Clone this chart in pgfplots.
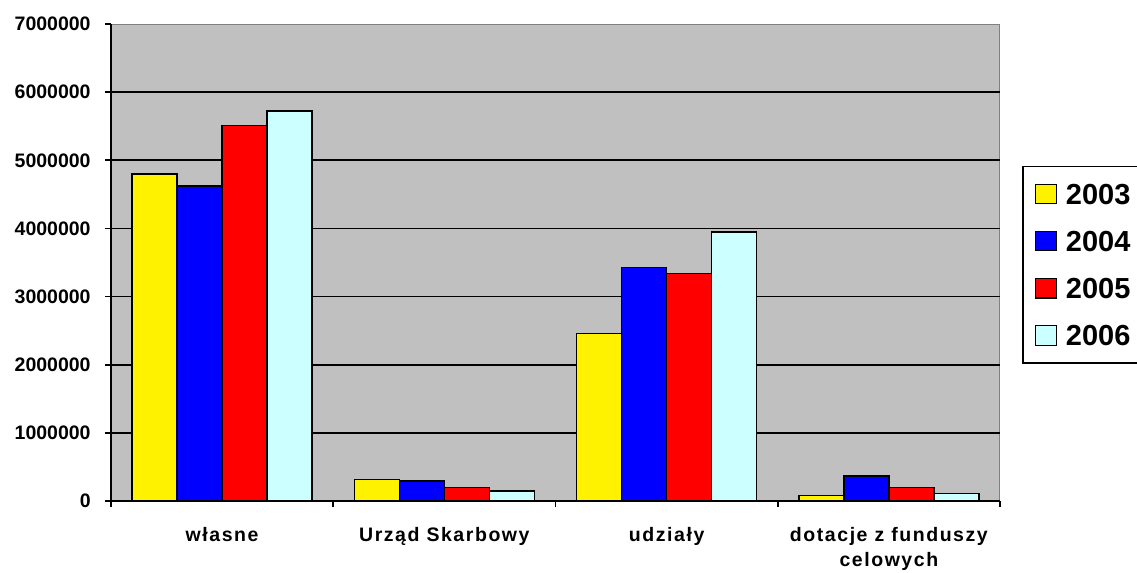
\documentclass[border=0pt]{standalone}
\usepackage{pgfplots}
\pgfplotsset{compat=1.18}
\usepackage{fontspec}
\setmainfont{Liberation Sans}
\newfontfamily\xlabfont[LetterSpace=8]{Liberation Sans}
\definecolor{plotgray}{RGB}{192,192,192}
\definecolor{bordergray}{RGB}{128,128,128}
\definecolor{cyanbar}{RGB}{204,255,255}
\begin{document}
\begin{tikzpicture}
\path[use as bounding box] (-55.5bp,-36bp) rectangle (513bp,250.5bp);
\begin{axis}[
  at={(0,0)}, anchor=south west,
  width=444.5bp, height=238.5bp, scale only axis,
  xmin=-0.5, xmax=3.5, ymin=0, ymax=7000000,
  axis x line*=bottom, axis y line*=left,
  axis line style={black, line width=0.9bp},
  axis background/.style={fill=plotgray, draw=bordergray, line width=0.5bp},
  ybar=0pt, bar width=22.5bp,
  xtick={0,1,2,3},
  xticklabels={w{ł}asne, Urząd Skarbowy, udziały, {dotacje z funduszy\\celowych}},
  minor xtick={-0.5,0.5,1.5,2.5,3.5},
  major x tick style={draw=none},
  minor x tick style={black, line width=0.9bp},
  minor tick length=3bp,
  tick align=outside,
  ytick={0,1000000,2000000,3000000,4000000,5000000,6000000},
  yticklabels={0,1000000,2000000,3000000,4000000,5000000,6000000},
  extra y ticks={7000000},
  extra y tick labels={7000000},
  extra y tick style={ymajorgrids=false},
  scaled y ticks=false,
  major y tick style={black, line width=0.9bp},
  major tick length=3bp,
  ymajorgrids,
  major grid style={black, line width=0.8bp},
  yticklabel style={font=\fontsize{9.75bp}{11bp}\selectfont\bfseries, anchor=east, inner sep=0pt, xshift=-7bp},
  xticklabel style={font=\fontsize{9.75bp}{12.3bp}\selectfont\xlabfont\bfseries, anchor=north, inner sep=0pt, align=center, yshift=-10bp},
  legend style={at={(1.0248,0.703)}, anchor=north west, draw=black, line width=0.75bp, fill=white,
    font=\fontsize{14.5bp}{16bp}\selectfont\bfseries,
    nodes={inner sep=0pt, text height=10.4bp, text depth=0bp},
    row sep=13.2bp, column sep=4.5bp, inner xsep=6bp, inner ysep=8.5bp},
  legend image code/.code={\draw[#1, line width=0.6bp] (0bp,-4.85bp) rectangle (10.5bp,4.85bp);},
  legend cell align=left,
]
\addplot[fill=yellow, draw=black, line width=0.75bp] coordinates {(0,4800000) (1,313000) (2,2460000) (3,84000)};
\addplot[fill=blue, draw=black, line width=0.75bp] coordinates {(0,4620000) (1,294000) (2,3430000) (3,370000)};
\addplot[fill=red, draw=black, line width=0.75bp] coordinates {(0,5510000) (1,195000) (2,3340000) (3,195000)};
\addplot[fill=cyanbar, draw=black, line width=0.75bp] coordinates {(0,5720000) (1,147000) (2,3950000) (3,113000)};
\legend{2003,2004,2005,2006}
\end{axis}
\end{tikzpicture}
\end{document}
